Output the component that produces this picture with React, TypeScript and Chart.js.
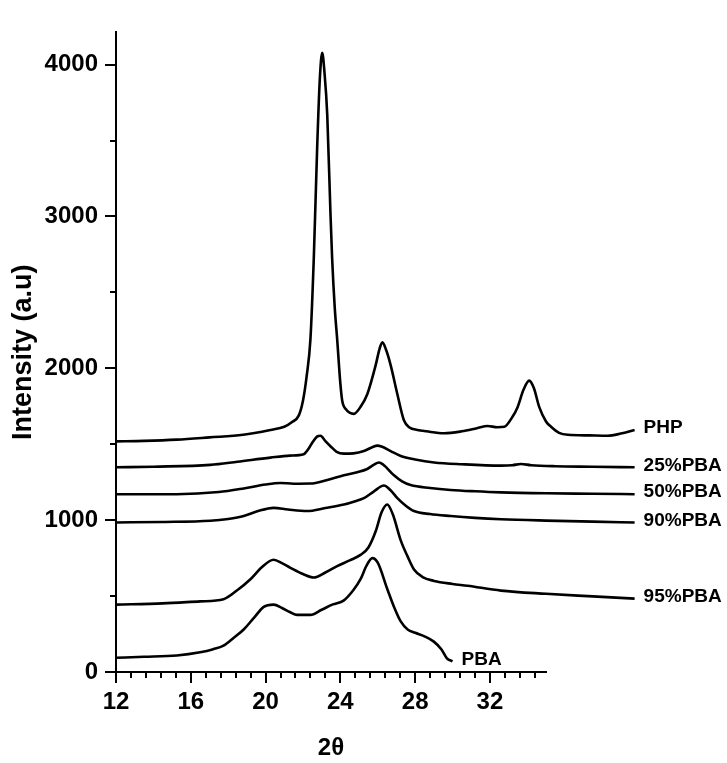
import React, { useEffect, useRef } from 'react';
import { Chart, registerables } from 'chart.js';

Chart.register(...registerables);

// ---- axis ranges and ticks ----
const xAxisMin = 12;
const xAxisMax = 35;
const yAxisMin = 0;
const yAxisMax = 4212;
const xMajorTicks = [12, 16, 20, 24, 28, 32];
const xMinorTicks = [12.8, 13.6, 14.4, 15.2, 16.8, 17.6, 18.4, 19.2, 20.8, 21.6, 22.4, 23.2, 24.8, 25.6, 26.4, 27.2, 28.8, 29.6, 30.4, 31.2, 32.8, 33.6, 34.4];
const yMajorTicks = [0, 1000, 2000, 3000, 4000];
const yMinorTicks = [500, 1500, 2500, 3500];

// ---- series ----
const seriesLabels = ['PHP', '25%PBA', '50%PBA', '90%PBA', '95%PBA', 'PBA'];

const phpX = [12.0, 13.5, 15.25, 17.0, 18.8, 20.26, 21.0, 21.4, 21.78, 22.0, 22.2, 22.4, 22.58, 22.76, 22.9, 23.03, 23.15, 23.3, 23.47, 23.56, 23.7, 23.83, 24.0, 24.1, 24.3, 24.72, 25.1, 25.44, 25.89, 26.1, 26.25, 26.45, 26.69, 27.05, 27.4, 27.7, 28.12, 28.6, 29.55, 30.5, 31.3, 31.88, 32.4, 32.77, 33.2, 33.48, 33.8, 34.1, 34.35, 34.64, 35.0, 35.27, 35.7, 36.17, 37.3, 38.3, 39.0, 39.74];
const phpY = [1519, 1522, 1530, 1545, 1562, 1594, 1615, 1645, 1690, 1786, 1950, 2192, 2726, 3453, 3900, 4077, 3950, 3667, 3026, 2726, 2400, 2192, 1900, 1786, 1730, 1700, 1750, 1829, 2021, 2130, 2171, 2120, 2021, 1829, 1658, 1610, 1594, 1585, 1572, 1585, 1605, 1620, 1612, 1615, 1679, 1744, 1860, 1919, 1870, 1744, 1650, 1615, 1575, 1562, 1558, 1556, 1570, 1594];

const p25X = [12.0, 14.0, 17.04, 18.5, 20.26, 21.3, 22.04, 22.3, 22.49, 22.75, 22.94, 23.2, 23.47, 23.8, 24.19, 24.7, 25.26, 25.7, 25.98, 26.2, 26.69, 27.23, 28.0, 29.01, 30.5, 32.59, 33.2, 33.66, 34.2, 35.5, 37.5, 39.74];
const p25Y = [1348, 1352, 1364, 1385, 1412, 1425, 1434, 1470, 1508, 1550, 1556, 1520, 1487, 1450, 1438, 1440, 1455, 1480, 1491, 1485, 1455, 1423, 1400, 1380, 1368, 1359, 1362, 1370, 1362, 1355, 1352, 1348];

const p50X = [12.0, 15.25, 17.5, 18.83, 20.0, 20.79, 21.5, 22.4, 23.3, 24.19, 24.9, 25.44, 25.8, 26.06, 26.3, 26.87, 27.3, 27.76, 28.8, 29.9, 31.2, 32.59, 35.0, 37.5, 39.74];
const p50Y = [1171, 1171, 1185, 1209, 1235, 1245, 1240, 1241, 1265, 1295, 1315, 1337, 1365, 1380, 1365, 1295, 1255, 1231, 1212, 1199, 1190, 1183, 1177, 1174, 1171];

const p90X = [12.0, 14.5, 17.04, 18.0, 18.83, 19.6, 20.43, 21.2, 22.22, 23.2, 24.19, 24.8, 25.26, 25.8, 26.33, 26.7, 27.05, 27.5, 27.94, 28.8, 29.9, 31.2, 32.59, 35.0, 37.5, 39.74];
const p90Y = [985, 988, 996, 1008, 1027, 1060, 1081, 1070, 1060, 1080, 1103, 1125, 1145, 1190, 1228, 1195, 1145, 1095, 1060, 1040, 1027, 1015, 1006, 997, 990, 985];

const p95X = [12.0, 14.5, 16.5, 17.75, 18.5, 19.19, 19.8, 20.43, 20.9, 21.33, 22.0, 22.58, 23.2, 23.83, 24.5, 25.08, 25.5, 25.9, 26.2, 26.51, 26.8, 27.23, 27.6, 27.94, 28.4, 29.01, 30.0, 30.8, 32.59, 35.0, 37.5, 39.74];
const p95Y = [444, 452, 465, 479, 540, 611, 690, 739, 715, 686, 645, 622, 655, 697, 735, 771, 820, 930, 1050, 1103, 1040, 867, 760, 675, 625, 600, 580, 568, 536, 515, 498, 483];

const pbaX = [12.0, 13.5, 15.25, 16.5, 17.2, 17.75, 18.3, 18.83, 19.4, 19.9, 20.43, 20.9, 21.3, 21.69, 22.4, 23.0, 23.6, 24.19, 24.7, 25.08, 25.4, 25.71, 26.0, 26.51, 26.9, 27.23, 27.6, 28.0, 28.5, 29.0, 29.4, 29.7, 30.0];
const pbaY = [94, 100, 109, 130, 150, 173, 225, 280, 360, 429, 444, 420, 395, 376, 376, 410, 445, 472, 540, 611, 700, 750, 720, 547, 420, 333, 280, 258, 235, 200, 150, 90, 70];

const seriesX = [phpX, p25X, p50X, p90X, p95X, pbaX];
const seriesY = [phpY, p25Y, p50Y, p90Y, p95Y, pbaY];

const FONT = '"Liberation Sans", Arial, sans-serif';

const decorPlugin = {
  id: 'decor',
  afterDraw(chart: any) {
    const { ctx } = chart;
    const xs = chart.scales.x;
    const ys = chart.scales.y;
    ctx.save();
    ctx.strokeStyle = '#000';
    ctx.lineWidth = 2;
    const axisY = ys.getPixelForValue(yAxisMin);
    const axisX = xs.getPixelForValue(xAxisMin);
    const tick = (x1: number, y1: number, x2: number, y2: number) => {
      ctx.beginPath();
      ctx.moveTo(x1, y1);
      ctx.lineTo(x2, y2);
      ctx.stroke();
    };
    xMajorTicks.forEach((v) => { const p = Math.round(xs.getPixelForValue(v)); tick(p, axisY, p, axisY + 11); });
    xMinorTicks.forEach((v) => { const p = Math.round(xs.getPixelForValue(v)); tick(p, axisY, p, axisY + 6); });
    yMajorTicks.forEach((v) => { const p = Math.round(ys.getPixelForValue(v)); tick(axisX, p, axisX - 11, p); });
    yMinorTicks.forEach((v) => { const p = Math.round(ys.getPixelForValue(v)); tick(axisX, p, axisX - 6, p); });

    ctx.fillStyle = '#000';
    ctx.font = `bold 19px ${FONT}`;
    ctx.textAlign = 'left';
    ctx.textBaseline = 'middle';
    chart.data.datasets.forEach((ds: any) => {
      const last = ds.data[ds.data.length - 1];
      const px = xs.getPixelForValue(last.x);
      const py = ys.getPixelForValue(last.y);
      ctx.fillText(ds.label, px + 9, py - 2);
    });
    ctx.restore();
  },
};

export default function App() {
  const canvasRef = useRef<HTMLCanvasElement | null>(null);

  useEffect(() => {
    if (!canvasRef.current) return;
    const datasets = seriesLabels.map((label, i) => ({
      label,
      data: seriesX[i].map((x, j) => ({ x, y: seriesY[i][j] })),
      borderColor: '#000',
      backgroundColor: '#000',
      borderWidth: 2.6,
      pointRadius: 0,
      cubicInterpolationMode: 'monotone' as const,
      fill: false,
      clip: false as any,
    }));

    const chart = new Chart(canvasRef.current, {
      type: 'line',
      data: { datasets },
      plugins: [decorPlugin],
      options: {
        animation: false,
        responsive: false,
        devicePixelRatio: 1,
        layout: { padding: { left: 0, top: 15, right: 181, bottom: 0 } },
        plugins: { legend: { display: false }, tooltip: { enabled: false } },
        scales: {
          x: {
            type: 'linear',
            bounds: 'data',
            grid: { display: false, drawTicks: false },
            border: { display: true, color: '#000', width: 2 },
            afterDataLimits: (s: any) => { s.min = xAxisMin; s.max = xAxisMax; },
            afterBuildTicks: (s: any) => { s.ticks = xMajorTicks.map((v) => ({ value: v })); },
            afterFit: (s: any) => { s.height = 91; },
            ticks: {
              color: '#000',
              padding: 16,
              maxRotation: 0,
              autoSkip: false,
              font: { family: FONT, size: 24, weight: 'bold' },
              callback: (v: any) => String(v),
            },
            title: {
              display: true,
              text: '2θ',
              color: '#000',
              font: { family: FONT, size: 24, weight: 'bold' },
              padding: { top: 0, bottom: 0 },
            },
          },
          y: {
            type: 'linear',
            min: yAxisMin,
            max: yAxisMax,
            bounds: 'data',
            grid: { display: false, drawTicks: false },
            border: { display: true, color: '#000', width: 2 },
            afterBuildTicks: (s: any) => { s.ticks = yMajorTicks.map((v) => ({ value: v })); },
            afterFit: (s: any) => { s.width = 116; },
            ticks: {
              color: '#000',
              padding: 18,
              autoSkip: false,
              font: { family: FONT, size: 24, weight: 'bold' },
              callback: (v: any) => String(v),
            },
            title: {
              display: true,
              text: 'Intensity (a.u)',
              color: '#000',
              font: { family: FONT, size: 27, weight: 'bold' },
              padding: { top: 7, bottom: 0 },
            },
          },
        },
      },
    });
    return () => chart.destroy();
  }, []);

  return (
    <div style={{ position: 'fixed', left: 0, top: 0, width: 727, height: 763, background: '#fff' }}>
      <canvas ref={canvasRef} width={727} height={763} style={{ width: 727, height: 763 }} />
    </div>
  );
}
